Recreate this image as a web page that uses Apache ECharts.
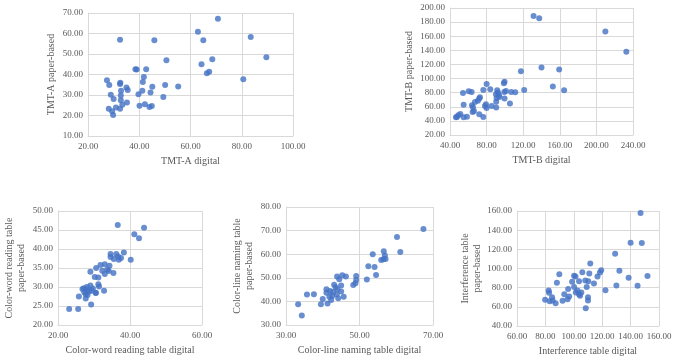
<!DOCTYPE html>
<html>
<head>
<meta charset="utf-8">
<script src="https://cdn.jsdelivr.net/npm/echarts@6/dist/echarts.min.js"></script>
<style>
  html, body { margin: 0; padding: 0; background: #fff; }
  #chart { width: 677px; height: 364px; }
</style>
</head>
<body>
<div id="chart"></div>
<script>
// TMT-A
const tmtADigital = [27.4, 28.3, 32.6, 32.5, 28.9, 30.0, 32.9, 32.8, 32.8, 35.0, 35.5, 35.2, 33.4, 30.9, 28.1, 29.4,
  29.8, 32.5, 32.5, 45.9, 38.5, 39.0, 42.7, 41.8, 41.4, 45.1, 39.7, 41.2, 44.4, 50.1, 55.2, 49.4, 40.1, 42.2, 44.0,
  44.9, 50.6, 62.9, 65.0, 70.7, 64.3, 68.5, 66.4, 67.3, 83.5, 89.6, 80.6];
const tmtAPaper = [37.2, 34.9, 36.0, 35.4, 30.1, 28.0, 32.1, 29.8, 27.5, 33.7, 32.4, 26.3, 25.2, 23.9, 23.3, 22.1,
  20.2, 23.3, 57.0, 56.7, 42.6, 42.5, 42.6, 38.8, 36.3, 34.0, 30.4, 32.1, 31.2, 34.9, 34.1, 29.0, 24.7, 25.5, 24.1,
  24.6, 47.0, 60.9, 56.7, 67.2, 45.0, 47.4, 40.6, 41.4, 58.3, 48.4, 37.7];

// TMT-B
const tmtBDigital = [131.3, 137.5, 209.8, 232.7, 117.5, 140.0, 159.3, 152.4, 164.7, 121.1, 80.0, 99.6, 98.9, 76.4,
  84.0, 91.6, 92.4, 90.2, 93.5, 99.3, 101.1, 106.9, 111.3, 54.2, 60.4, 63.6, 54.9, 64.0, 65.1, 66.2, 64.7, 67.3, 70.5,
  72.0, 72.7, 78.2, 79.3, 80.0, 85.5, 90.5, 90.5, 99.6, 105.5, 72.0, 76.4, 47.6, 49.1, 51.3, 54.9, 58.5, 46.5, 90.9, 94.0];
const tmtBPaper = [188.6, 185.3, 166.8, 137.9, 110.4, 115.6, 112.8, 88.6, 83.4, 83.9, 92.4, 95.3, 93.4, 83.9,
  84.8, 83.4, 80.1, 77.7, 76.8, 81.0, 82.5, 81.0, 80.6, 79.6, 82.0, 81.0, 63.0, 62.1, 59.2, 54.0, 52.6, 66.8, 68.7,
  71.6, 73.5, 61.1, 63.5, 58.3, 61.1, 67.3, 58.8, 71.6, 64.5, 49.3, 45.5, 45.5, 47.9, 49.8, 45.0, 46.0, 45.0, 72.5, 74.0];

// color-word reading table
const wordDigital = [36.6, 43.9, 41.2, 42.5, 23.1, 25.6, 29.2, 25.8, 27.7, 30.5, 32.8, 29.0, 30.6, 31.8, 33.0, 34.6,
  34.6, 36.2, 36.7, 38.3, 36.9, 37.5, 40.2, 35.5, 34.3, 33.7, 34.1, 35.4, 32.3, 33.0, 30.2, 31.2, 31.2, 31.4, 29.0,
  28.0, 27.2, 28.1, 28.6, 29.4, 30.5, 27.7, 28.2, 27.3, 29.7, 26.8];
const wordPaper = [46.3, 45.6, 43.9, 42.8, 24.2, 24.2, 25.4, 27.5, 27.0, 28.5, 29.0, 34.0, 35.0, 35.8, 36.0, 38.7,
  37.9, 38.7, 38.0, 39.1, 37.2, 37.6, 37.2, 37.4, 35.6, 34.6, 34.2, 33.7, 34.3, 33.4, 32.6, 32.5, 30.7, 30.1, 30.4,
  30.0, 29.7, 29.2, 28.8, 29.0, 28.4, 28.1, 27.9, 28.6, 29.6, 29.5];

// color-line naming table
const lineDigital = [67.4, 60.2, 61.1, 56.6, 56.9, 57.1, 55.9, 56.5, 53.6, 54.1, 52.4, 54.5, 52.0, 49.1, 49.1, 48.9,
  48.3, 46.3, 45.3, 43.9, 44.5, 45.0, 43.1, 43.5, 45.0, 45.7, 44.2, 42.6, 42.0, 41.0, 41.0, 40.0, 39.5, 41.3, 42.3,
  35.7, 37.6, 33.3, 34.3, 42.8, 43.8, 41.8, 44.0];
const linePaper = [70.7, 67.3, 60.9, 61.2, 59.5, 58.0, 57.5, 57.9, 60.0, 54.6, 54.9, 51.2, 49.3, 50.8, 49.1, 47.7,
  46.9, 50.5, 51.1, 50.5, 49.4, 46.7, 47.1, 46.0, 44.2, 42.0, 41.3, 42.3, 44.4, 45.2, 43.7, 41.0, 38.8, 39.1, 40.6,
  42.9, 43.0, 38.8, 34.0, 44.0, 43.0, 42.0, 45.0];

// interference table
const interDigital = [147.0, 140.0, 147.9, 129.1, 132.1, 130.0, 138.6, 144.9, 151.9, 122.3, 119.3, 118.4, 116.7,
  114.2, 111.6, 110.9, 106.0, 110.2, 108.1, 109.1, 110.0, 110.0, 108.4, 103.7, 101.2, 100.2, 98.8, 100.2, 102.6,
  101.4, 103.7, 105.3, 104.4, 96.0, 96.7, 95.6, 93.3, 92.1, 89.8, 88.1, 87.2, 84.7, 82.3, 82.6, 79.8, 83.0, 85.1];
const interPaper = [157.9, 126.9, 126.6, 115.4, 97.6, 82.3, 90.3, 82.0, 92.1, 77.4, 98.3, 95.9, 91.7,
  84.4, 105.3, 94.8, 96.2, 86.8, 87.5, 80.6, 70.1, 66.6, 58.6, 86.8, 91.7, 92.4, 86.1, 80.6, 77.1,
  75.0, 73.2, 75.0, 71.5, 78.5, 70.8, 68.0, 73.2, 66.3, 94.1, 85.1, 63.8, 70.1, 77.1, 74.6, 67.3, 65.9, 66.6];

const xNames = ['TMT-A digital', 'TMT-B digital', 'Color-word reading table digital',
  'Color-line naming table digital', 'Interference table digital'];
const yNames = ['TMT-A paper-based', 'TMT-B paper-based', 'Color-word reading table\npaper-based',
  'Color-line naming table\npaper-based', 'Interference table\npaper-based'];
const xRanges = [[20, 100, 20], [40, 240, 40], [20, 60, 20], [30, 70, 20], [60, 160, 20]];
const yRanges = [[10, 70, 10], [20, 200, 20], [20, 50, 5], [30, 80, 10], [40, 160, 20]];

const xs = [tmtADigital, tmtBDigital, wordDigital, lineDigital, interDigital];
const ys = [tmtAPaper, tmtBPaper, wordPaper, linePaper, interPaper];

// plot boxes [left, top, width, height] and name gaps
const grids = [
  [88, 13, 205, 123], [450, 8, 183, 127],
  [58, 211, 144, 114], [286, 207, 147, 118], [517, 211, 142, 115]
];
const yGaps = [31, 35, 31, 31, 32];

const font = "'Liberation Serif', 'Times New Roman', serif";
const fmt = v => v.toFixed(2);

const chart = echarts.init(document.getElementById('chart'));

const option = {
  animation: false,
  grid: grids.map(g => ({ left: g[0], top: g[1], width: g[2], height: g[3] })),
  xAxis: xRanges.map((r, i) => ({
    type: 'value', gridIndex: i, min: r[0], max: r[1], interval: r[2],
    name: xNames[i], nameLocation: 'middle', nameGap: 20,
    nameTextStyle: { color: '#595959', fontFamily: font, fontSize: 10 },
    axisLine: { show: true, lineStyle: { color: '#d9d9d9' } },
    axisTick: { show: false },
    axisLabel: { color: '#595959', fontFamily: font, fontSize: 9, margin: 6, formatter: fmt },
    splitLine: { lineStyle: { color: '#d9d9d9' } }
  })),
  yAxis: yRanges.map((r, i) => ({
    type: 'value', gridIndex: i, min: r[0], max: r[1], interval: r[2],
    name: yNames[i], nameLocation: 'middle', nameGap: yGaps[i],
    nameTextStyle: { color: '#595959', fontFamily: font, fontSize: 10, lineHeight: 12 },
    axisLine: { show: true, lineStyle: { color: '#d9d9d9' } },
    axisTick: { show: false },
    axisLabel: { color: '#595959', fontFamily: font, fontSize: 9, margin: 5, formatter: fmt },
    splitLine: { lineStyle: { color: '#d9d9d9' } }
  })),
  series: xs.map((xv, i) => ({
    type: 'scatter', xAxisIndex: i, yAxisIndex: i,
    symbolSize: 6,
    itemStyle: { color: '#4472C4' },
    data: xv.map((x, j) => [x, ys[i][j]])
  }))
};

chart.setOption(option);
</script>
</body>
</html>
